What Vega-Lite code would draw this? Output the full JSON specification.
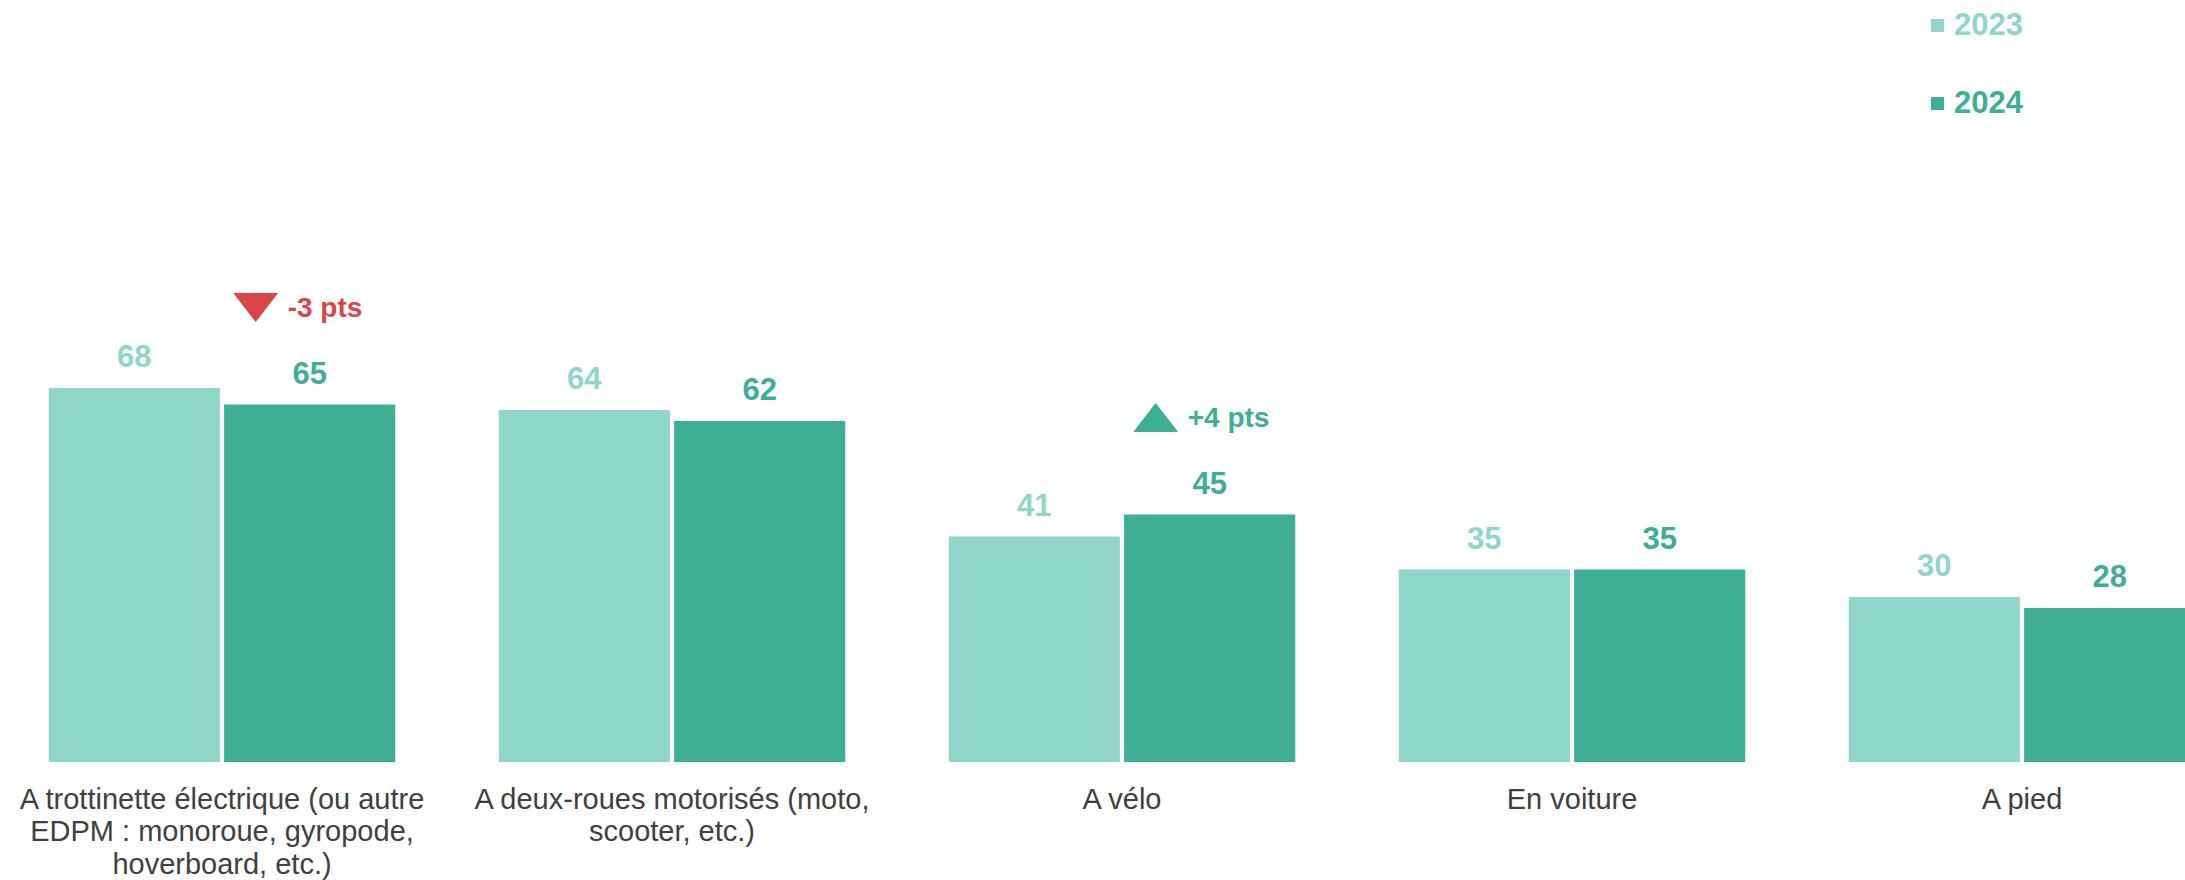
{
  "$schema": "https://vega.github.io/schema/vega-lite/v6.json",
  "width": 2185,
  "height": 550,
  "autosize": {"type": "none"},
  "padding": {"top": 212, "left": 0, "right": 0, "bottom": 118},
  "background": "white",
  "config": {
    "view": {"stroke": null},
    "font": "Liberation Sans"
  },
  "datasets": {
    "bars": [
      {"category": "A trottinette électrique (ou autre EDPM : monoroue, gyropode, hoverboard, etc.)", "year": "2023", "value": 68},
      {"category": "A trottinette électrique (ou autre EDPM : monoroue, gyropode, hoverboard, etc.)", "year": "2024", "value": 65},
      {"category": "A deux-roues motorisés (moto, scooter, etc.)", "year": "2023", "value": 64},
      {"category": "A deux-roues motorisés (moto, scooter, etc.)", "year": "2024", "value": 62},
      {"category": "A vélo", "year": "2023", "value": 41},
      {"category": "A vélo", "year": "2024", "value": 45},
      {"category": "En voiture", "year": "2023", "value": 35},
      {"category": "En voiture", "year": "2024", "value": 35},
      {"category": "A pied", "year": "2023", "value": 30},
      {"category": "A pied", "year": "2024", "value": 28}
    ],
    "annotations": [
      {"category": "A trottinette électrique (ou autre EDPM : monoroue, gyropode, hoverboard, etc.)", "year": "2024", "value": 65, "label": "-3 pts", "direction": "down"},
      {"category": "A vélo", "year": "2024", "value": 45, "label": "+4 pts", "direction": "up"}
    ]
  },
  "encoding": {
    "x": {
      "field": "category",
      "type": "nominal",
      "scale": {
        "domain": [
          "A trottinette électrique (ou autre EDPM : monoroue, gyropode, hoverboard, etc.)",
          "A deux-roues motorisés (moto, scooter, etc.)",
          "A vélo",
          "En voiture",
          "A pied"
        ],
        "range": [-3, 2247],
        "paddingInner": 0.23,
        "paddingOuter": 0.115
      },
      "axis": {
        "title": null,
        "domain": false,
        "ticks": false,
        "labelAngle": 0,
        "labelFontSize": 29,
        "labelColor": "#404040",
        "labelFont": "Liberation Sans",
        "labelPadding": 23,
        "labelBaseline": "top",
        "labelLineHeight": 32.5,
        "labelLimit": 0,
        "labelOverlap": false,
        "labelExpr": "datum.value === 'A trottinette électrique (ou autre EDPM : monoroue, gyropode, hoverboard, etc.)' ? ['A trottinette électrique (ou autre', 'EDPM : monoroue, gyropode,', 'hoverboard, etc.)'] : datum.value === 'A deux-roues motorisés (moto, scooter, etc.)' ? ['A deux-roues motorisés (moto,', 'scooter, etc.)'] : datum.label"
      }
    },
    "xOffset": {
      "field": "year",
      "type": "nominal",
      "scale": {"domain": ["2023", "2024"], "paddingInner": 0.024, "paddingOuter": 0}
    },
    "y": {
      "field": "value",
      "type": "quantitative",
      "scale": {"domain": [0, 100]},
      "axis": null
    }
  },
  "layer": [
    {
      "data": {"name": "bars"},
      "mark": {"type": "bar"},
      "encoding": {
        "color": {
          "field": "year",
          "type": "nominal",
          "scale": {"domain": ["2023", "2024"], "range": ["#90d6c8", "#3eae95"]},
          "legend": {
            "title": null,
            "orient": "none",
            "legendX": 1922,
            "legendY": -202,
            "direction": "vertical",
            "symbolType": "square",
            "symbolSize": 170,
            "symbolStrokeWidth": 0,
            "labelFontSize": 31,
            "labelFont": "Liberation Sans",
            "labelFontWeight": "bold",
            "labelOffset": 1,
            "labelBaseline": "middle",
            "rowPadding": 46,
            "padding": 0,
            "encode": {
              "labels": {"update": {"fill": {"scale": "color", "field": "value"}}}
            }
          }
        }
      }
    },
    {
      "data": {"name": "bars"},
      "mark": {"type": "text", "baseline": "alphabetic", "dy": -21, "fontSize": 31, "fontWeight": "bold", "font": "Liberation Sans"},
      "encoding": {
        "text": {"field": "value", "type": "quantitative"},
        "color": {"field": "year", "type": "nominal", "legend": null}
      }
    },
    {
      "data": {"name": "annotations"},
      "mark": {"type": "text", "align": "left", "baseline": "alphabetic", "dx": -22, "dy": -88, "fontSize": 28, "fontWeight": "bold", "font": "Liberation Sans"},
      "encoding": {
        "text": {"field": "label", "type": "nominal"},
        "color": {"condition": {"test": "datum.direction === 'down'", "value": "#d9454b"}, "value": "#3eae95"}
      }
    },
    {
      "data": {"name": "annotations"},
      "mark": {"type": "point", "filled": true, "opacity": 1, "size": 10000, "strokeWidth": 0},
      "encoding": {
        "shape": {
          "condition": {"test": "datum.direction === 'down'", "value": "M-1.53,-2.23L-0.63,-2.23L-1.08,-1.65Z"},
          "value": "M-1.53,-1.65L-0.63,-1.65L-1.08,-2.23Z"
        },
        "color": {"condition": {"test": "datum.direction === 'down'", "value": "#d9454b"}, "value": "#3eae95"}
      }
    }
  ]
}
